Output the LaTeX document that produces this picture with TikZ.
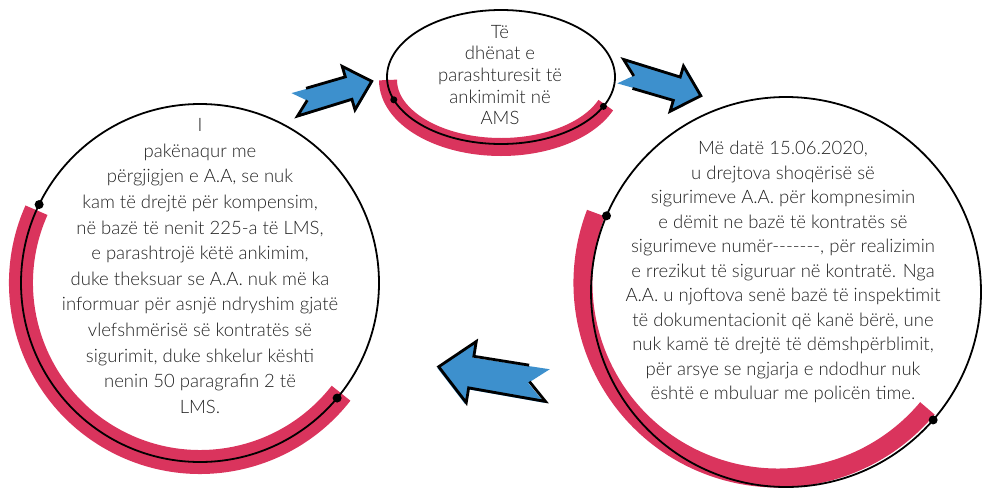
\documentclass[tikz,border=0pt]{standalone}
\usepackage{fontspec}
\setmainfont{Lato Light}
\usetikzlibrary{shapes.geometric}
\definecolor{bandred}{RGB}{218,52,93}
\definecolor{arrowblue}{RGB}{61,144,205}
\definecolor{textgray}{RGB}{34,34,34}
\tikzset{
  stagecircle/.style={draw, circle, line width=1.8pt, inner sep=0pt, outer sep=0pt},
  stageoval/.style={draw, ellipse, line width=1.8pt, inner sep=0pt, outer sep=0pt},
  redband/.style={draw=bandred, line width=24pt},
  stagetext/.style={align=center, text=textgray, inner sep=0pt},
  enddot/.style={circle, fill=black, inner sep=0pt, minimum size=9pt},
  flowarrow/.pic={
    \fill[arrowblue] (0,17) -- (19,0) -- (0,-17) -- (78,-16) -- (78,-31) -- (111,0)
      -- (78,31) -- (78,16) -- cycle;
    \draw[line width=2.8pt, line join=miter, shift={(-1,-1.5)}] (22,-16.2) -- (78,-16) -- (78,-31)
      -- (111,0) -- (78,31) -- (78,16) -- (0,17) -- (19,0);
  }
}
\begin{document}
\begin{tikzpicture}[x=1pt,y=1pt]
\useasboundingbox (0,0) rectangle (983,-496);
% red bands under the outlines
\draw[redband] ([shift={(156:179pt)}]200,-283) arc[start angle=156, end angle=322, radius=179pt];
\draw[redband, line width=19pt] ([shift={(159:195pt)}]778,-283) arc[start angle=159, end angle=320, radius=195pt];
\draw[redband, line width=18pt] ([shift={(180:113pt and 67pt)}]501,-80) arc[start angle=180, end angle=338, x radius=113pt, y radius=67pt];
% stages
\node[stageoval, minimum width=228pt, minimum height=134pt] (data) at (501,-77) {};
\node[stagecircle, minimum size=358pt] (complaint) at (200,-283) {};
\node[stagecircle, minimum size=390pt] (request) at (786,-292) {};
\node[enddot, minimum size=7pt] (datadotl) at (data.192) {};
\node[enddot, minimum size=7pt] (datadotr) at (data.-16) {};
\node[enddot] (complaintdotl) at (complaint.154.6) {};
\node[enddot] (complaintdotr) at (complaint.-40.5) {};
\node[enddot] (requestdotl) at (request.157) {};
\node[enddot] (requestdotr) at (request.-41) {};
% texts
\node[stagetext, font=\fontsize{18.5}{21.7}\selectfont] (datatext) at (500,-75)
  {Të\\dhënat e\\parashturesit të\\ankimimit në\\AMS};
\node[stagetext, font=\fontsize{18.5}{25.6}\selectfont] (complainttext) at (200,-266)
  {I\\pakënaqur me\\përgjigjen e A.A, se nuk\\kam të drejtë për kompensim,\\në bazë të nenit 225-a të LMS,\\e parashtrojë këtë ankimim,\\duke theksuar se A.A. nuk më ka\\informuar për asnjë ndryshim gjatë\\vlefshmërisë së kontratës së\\sigurimit, duke shkelur kështi\\nenin 50 paragrafin 2 të\\LMS.};
\node[stagetext, font=\fontsize{18.5}{24.5}\selectfont] (requesttext) at (783,-272)
  {Më datë 15.06.2020,\\u drejtova shoqërisë së\\sigurimeve A.A. për kompnesimin\\e dëmit ne bazë të kontratës së\\sigurimeve numër{-}{-}{-}{-}{-}{-}{-}, për realizimin\\e rrezikut të siguruar në kontratë. Nga\\A.A. u njoftova senë bazë të inspektimit\\të dokumentacionit që kanë bërë, une\\nuk kamë të drejtë të dëmshpërblimit,\\për arsye se ngjarja e ndodhur nuk\\është e mbuluar me policën time.};
% arrows between stages
\pic[rotate=16.4, scale=0.73, yscale=-1] (arrowin) at (295,-105) {flowarrow};
\pic[rotate=-16.5, scale=0.76] (arrowout) at (621,-71) {flowarrow};
\pic[rotate=170.7] (arrowback) at (547,-386) {flowarrow};
\end{tikzpicture}
\end{document}
